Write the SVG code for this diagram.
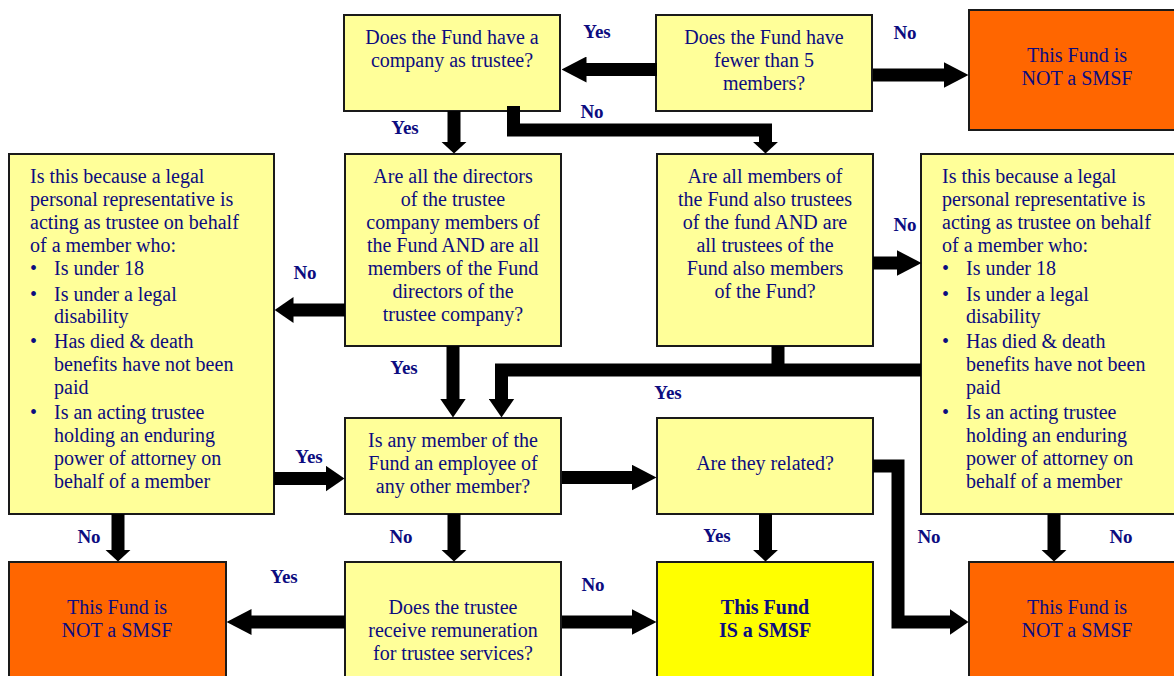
<svg xmlns="http://www.w3.org/2000/svg" width="1174" height="676" viewBox="0 0 1174 676">
<style>
.box{fill:#FFFF99;stroke:#1a1a1a;stroke-width:2}
.red{fill:#FF6600;stroke:#1a1a1a;stroke-width:2}
.yes{fill:#FFFF00;stroke:#1a1a1a;stroke-width:2}
.t{font-family:"Liberation Serif","Times New Roman",serif;font-size:20px;fill:#0c0c80}
.c{text-anchor:middle}
.b{font-weight:bold}
.lbl{font-family:"Liberation Serif","Times New Roman",serif;font-size:19px;font-weight:bold;fill:#0c0c80;text-anchor:middle}
.cn{fill:none;stroke:#000;stroke-width:13;stroke-linejoin:miter}
</style>
<defs>
<marker id="hL" markerUnits="userSpaceOnUse" viewBox="0 -13 25 26" refX="0.5" refY="0" markerWidth="25" markerHeight="26" orient="auto"><path d="M0,-13 L25,0 L0,13 z" fill="#000"/></marker>
<marker id="hM" markerUnits="userSpaceOnUse" viewBox="0 -13 19 26" refX="0.5" refY="0" markerWidth="19" markerHeight="26" orient="auto"><path d="M0,-13 L19,0 L0,13 z" fill="#000"/></marker>
<marker id="hS" markerUnits="userSpaceOnUse" viewBox="0 -13 12 26" refX="0.5" refY="0" markerWidth="12" markerHeight="26" orient="auto"><path d="M0,-13 L12,0 L0,13 z" fill="#000"/></marker>
</defs>
<rect width="1174" height="676" fill="#fff"/>

<g id="n-company">
<rect class="box" x="344" y="15" width="216" height="96"/>
<text class="t c" x="452" y="44">Does the Fund have a</text>
<text class="t c" x="452" y="67">company as trustee?</text>
</g>
<g id="n-fewer">
<rect class="box" x="656" y="15" width="216" height="96"/>
<text class="t c" x="764" y="44">Does the Fund have</text>
<text class="t c" x="764" y="67">fewer than 5</text>
<text class="t c" x="764" y="90">members?</text>
</g>
<g id="n-not1">
<rect class="red" x="969" y="10" width="216" height="120"/>
<text class="t c" x="1077" y="62">This Fund is</text>
<text class="t c" x="1077" y="85">NOT a SMSF</text>
</g>
<g id="n-lpr-left">
<rect class="box" x="9" y="154" width="265" height="360"/>
<text class="t" x="30" y="183">Is this because a legal</text>
<text class="t" x="30" y="206">personal representative is</text>
<text class="t" x="30" y="229">acting as trustee on behalf</text>
<text class="t" x="30" y="252">of a member who:</text>
<text class="t" x="30" y="275">•</text><text class="t" x="54" y="275">Is under 18</text>
<text class="t" x="30" y="301">•</text><text class="t" x="54" y="301">Is under a legal</text>
<text class="t" x="54" y="323">disability</text>
<text class="t" x="30" y="348">•</text><text class="t" x="54" y="348">Has died &amp; death</text>
<text class="t" x="54" y="371">benefits have not been</text>
<text class="t" x="54" y="394">paid</text>
<text class="t" x="30" y="419">•</text><text class="t" x="54" y="419">Is an acting trustee</text>
<text class="t" x="54" y="442">holding an enduring</text>
<text class="t" x="54" y="465">power of attorney on</text>
<text class="t" x="54" y="488">behalf of a member</text>
</g>
<g id="n-directors">
<rect class="box" x="345" y="154" width="216" height="192"/>
<text class="t c" x="453" y="183">Are all the directors</text>
<text class="t c" x="453" y="206">of the trustee</text>
<text class="t c" x="453" y="229">company members of</text>
<text class="t c" x="453" y="252">the Fund AND are all</text>
<text class="t c" x="453" y="275">members of the Fund</text>
<text class="t c" x="453" y="298">directors of the</text>
<text class="t c" x="453" y="321">trustee company?</text>
</g>
<g id="n-members">
<rect class="box" x="657" y="154" width="216" height="192"/>
<text class="t c" x="765" y="183">Are all members of</text>
<text class="t c" x="765" y="206">the Fund also trustees</text>
<text class="t c" x="765" y="229">of the fund AND are</text>
<text class="t c" x="765" y="252">all trustees of the</text>
<text class="t c" x="765" y="275">Fund also members</text>
<text class="t c" x="765" y="298">of the Fund?</text>
</g>
<g id="n-lpr-right">
<rect class="box" x="921" y="154" width="265" height="360"/>
<text class="t" x="942" y="183">Is this because a legal</text>
<text class="t" x="942" y="206">personal representative is</text>
<text class="t" x="942" y="229">acting as trustee on behalf</text>
<text class="t" x="942" y="252">of a member who:</text>
<text class="t" x="942" y="275">•</text><text class="t" x="966" y="275">Is under 18</text>
<text class="t" x="942" y="301">•</text><text class="t" x="966" y="301">Is under a legal</text>
<text class="t" x="966" y="323">disability</text>
<text class="t" x="942" y="348">•</text><text class="t" x="966" y="348">Has died &amp; death</text>
<text class="t" x="966" y="371">benefits have not been</text>
<text class="t" x="966" y="394">paid</text>
<text class="t" x="942" y="419">•</text><text class="t" x="966" y="419">Is an acting trustee</text>
<text class="t" x="966" y="442">holding an enduring</text>
<text class="t" x="966" y="465">power of attorney on</text>
<text class="t" x="966" y="488">behalf of a member</text>
</g>
<g id="n-employee">
<rect class="box" x="345" y="418" width="216" height="96"/>
<text class="t c" x="453" y="447">Is any member of the</text>
<text class="t c" x="453" y="470">Fund an employee of</text>
<text class="t c" x="453" y="493">any other member?</text>
</g>
<g id="n-related">
<rect class="box" x="657" y="418" width="216" height="96"/>
<text class="t c" x="765" y="470">Are they related?</text>
</g>
<g id="n-not2">
<rect class="red" x="9" y="562" width="217" height="120"/>
<text class="t c" x="117" y="614">This Fund is</text>
<text class="t c" x="117" y="637">NOT a SMSF</text>
</g>
<g id="n-remun">
<rect class="box" x="345" y="562" width="216" height="120"/>
<text class="t c" x="453" y="614">Does the trustee</text>
<text class="t c" x="453" y="637">receive remuneration</text>
<text class="t c" x="453" y="660">for trustee services?</text>
</g>
<g id="n-smsf">
<rect class="yes" x="657" y="562" width="216" height="120"/>
<text class="t c b" x="765" y="614">This Fund</text>
<text class="t c b" x="765" y="637">IS a SMSF</text>
</g>
<g id="n-not3">
<rect class="red" x="969" y="562" width="216" height="120"/>
<text class="t c" x="1077" y="614">This Fund is</text>
<text class="t c" x="1077" y="637">NOT a SMSF</text>
</g>

<g id="connectors">
<path class="cn" d="M657,69.5 H586" marker-end="url(#hL)"/>
<path class="cn" d="M873,75 H944" marker-end="url(#hL)"/>
<path class="cn" d="M454,111 V142" marker-end="url(#hS)"/>
<path class="cn" d="M513.5,106 V130 H765.5 V142" marker-end="url(#hS)"/>
<path class="cn" d="M345,310 H293" marker-end="url(#hM)"/>
<path class="cn" d="M274,478.5 H326" marker-end="url(#hM)"/>
<path class="cn" d="M453,346 V399" marker-end="url(#hM)"/>
<path class="cn" d="M778,346 V370"/>
<path class="cn" d="M921,370 H501.5 V399" marker-end="url(#hM)"/>
<path class="cn" d="M873,263 H897" marker-end="url(#hL)"/>
<path class="cn" d="M562,477.5 H632" marker-end="url(#hL)"/>
<path class="cn" d="M765.5,514 V550" marker-end="url(#hS)"/>
<path class="cn" d="M873,466 H898 V622 H950" marker-end="url(#hM)"/>
<path class="cn" d="M1054,514 V550" marker-end="url(#hS)"/>
<path class="cn" d="M118,514 V550" marker-end="url(#hS)"/>
<path class="cn" d="M454,514 V550" marker-end="url(#hS)"/>
<path class="cn" d="M345,622 H251" marker-end="url(#hL)"/>
<path class="cn" d="M562,622 H632" marker-end="url(#hL)"/>
</g>

<g id="labels">
<text class="lbl" x="597" y="38">Yes</text>
<text class="lbl" x="905" y="39">No</text>
<text class="lbl" x="405" y="134">Yes</text>
<text class="lbl" x="592" y="118">No</text>
<text class="lbl" x="305" y="279">No</text>
<text class="lbl" x="905" y="231">No</text>
<text class="lbl" x="404" y="374">Yes</text>
<text class="lbl" x="668" y="399">Yes</text>
<text class="lbl" x="309" y="463">Yes</text>
<text class="lbl" x="89" y="543">No</text>
<text class="lbl" x="401" y="543">No</text>
<text class="lbl" x="717" y="542">Yes</text>
<text class="lbl" x="929" y="543">No</text>
<text class="lbl" x="1121" y="543">No</text>
<text class="lbl" x="284" y="583">Yes</text>
<text class="lbl" x="593" y="591">No</text>
</g>
</svg>
